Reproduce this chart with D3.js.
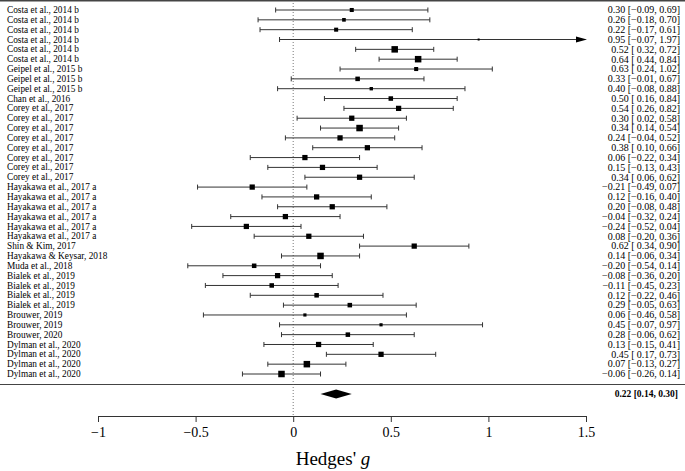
<!DOCTYPE html>
<html>
<head>
<meta charset="utf-8">
<script src="https://cdn.jsdelivr.net/npm/d3@7"></script>
<style>
  body { margin: 0; background: #fff; }
  svg text { font-family: "Liberation Serif", "Times New Roman", serif; fill: #000; }
</style>
</head>
<body>
<div id="chart"></div>
<script>
// study labels, effect sizes (Hedges' g) and 95% CI bounds
const studies = [
  'Costa et al., 2014 b', 'Costa et al., 2014 b', 'Costa et al., 2014 b', 'Costa et al., 2014 b',
  'Costa et al., 2014 b', 'Costa et al., 2014 b',
  'Geipel et al., 2015 b', 'Geipel et al., 2015 b', 'Geipel et al., 2015 b',
  'Chan et al., 2016',
  'Corey et al., 2017', 'Corey et al., 2017', 'Corey et al., 2017', 'Corey et al., 2017',
  'Corey et al., 2017', 'Corey et al., 2017', 'Corey et al., 2017', 'Corey et al., 2017',
  'Hayakawa et al., 2017 a', 'Hayakawa et al., 2017 a', 'Hayakawa et al., 2017 a',
  'Hayakawa et al., 2017 a', 'Hayakawa et al., 2017 a', 'Hayakawa et al., 2017 a',
  'Shin & Kim, 2017', 'Hayakawa & Keysar, 2018', 'Muda et al., 2018',
  'Bialek et al., 2019', 'Bialek et al., 2019', 'Bialek et al., 2019', 'Bialek et al., 2019',
  'Brouwer, 2019', 'Brouwer, 2019', 'Brouwer, 2020',
  'Dylman et al., 2020', 'Dylman et al., 2020', 'Dylman et al., 2020', 'Dylman et al., 2020'
];
const effects = [
  0.30, 0.26, 0.22, 0.95, 0.52, 0.64,
  0.63, 0.33, 0.40,
  0.50,
  0.54, 0.30, 0.34, 0.24, 0.38, 0.06, 0.15, 0.34,
  -0.21, 0.12, 0.20, -0.04, -0.24, 0.08,
  0.62, 0.14, -0.20,
  -0.08, -0.11, 0.12, 0.29,
  0.06, 0.45, 0.28,
  0.13, 0.45, 0.07, -0.06
];
const lower = [
  -0.09, -0.18, -0.17, -0.07, 0.32, 0.44,
  0.24, -0.01, -0.08,
  0.16,
  0.26, 0.02, 0.14, -0.04, 0.10, -0.22, -0.13, 0.06,
  -0.49, -0.16, -0.08, -0.32, -0.52, -0.20,
  0.34, -0.06, -0.54,
  -0.36, -0.45, -0.22, -0.05,
  -0.46, -0.07, -0.06,
  -0.15, 0.17, -0.13, -0.26
];
const upper = [
  0.69, 0.70, 0.61, 1.97, 0.72, 0.84,
  1.02, 0.67, 0.88,
  0.84,
  0.82, 0.58, 0.54, 0.52, 0.66, 0.34, 0.43, 0.62,
  0.07, 0.40, 0.48, 0.24, 0.04, 0.36,
  0.90, 0.34, 0.14,
  0.20, 0.23, 0.46, 0.63,
  0.58, 0.97, 0.62,
  0.41, 0.73, 0.27, 0.14
];
// pooled random-effects estimate
const summary = { est: 0.22, lo: 0.14, hi: 0.30 };
const xTicks = [-1, -0.5, 0, 0.5, 1, 1.5];
const tau2 = 0.02;

const width = 685;
const height = 471;

const svg = d3.select('#chart').append('svg')
  .attr('width', width)
  .attr('height', height);

const xScale = d3.scaleLinear().domain([-1, 1.5]).range([98, 586]);
const yScale = d3.scalePoint().domain(d3.range(studies.length)).range([10, 374]);

const rows = studies.map((s, i) => ({
  label: s, est: effects[i], lo: lower[i], hi: upper[i], row: i,
  // inverse-variance (random effects) weight from CI width
  w: 1 / (Math.pow((upper[i] - lower[i]) / 3.92, 2) + tau2)
}));

const sizeScale = d3.scaleLinear()
  .domain(d3.extent(rows, (d) => d.w))
  .range([2, 6.5]);

const fmt = (v) => d3.format('.2f')(v).replace('-', '\u2212');
const fmtCi = (d) => `${fmt(d.est)} [${d.lo < 0 ? '' : '\u2009'}${fmt(d.lo)}, ${fmt(d.hi)}]`;

// frame lines
svg.append('line')
  .attr('x1', 0).attr('x2', width)
  .attr('y1', 0.75).attr('y2', 0.75)
  .attr('stroke', '#444').attr('stroke-width', 1.5);
svg.append('line')
  .attr('x1', 0).attr('x2', width)
  .attr('y1', 384.5).attr('y2', 384.5)
  .attr('stroke', '#444').attr('stroke-width', 1.2);

// reference line at zero
svg.append('line')
  .attr('x1', xScale(0)).attr('x2', xScale(0))
  .attr('y1', 0).attr('y2', 416)
  .attr('stroke', '#555')
  .attr('stroke-width', 0.8)
  .attr('stroke-dasharray', '1,2');

const xMax = xScale.domain()[1];
const g = svg.append('g');

const study = g.selectAll('.study')
  .data(rows)
  .join('g')
  .attr('class', 'study')
  .attr('transform', (d) => `translate(0,${yScale(d.row)})`);

study.append('line')
  .attr('x1', (d) => xScale(d.lo))
  .attr('x2', (d) => xScale(Math.min(d.hi, xMax)) - (d.hi > xMax ? 6 : 0))
  .attr('stroke', '#333').attr('stroke-width', 1);

// whisker caps
study.append('line')
  .attr('x1', (d) => xScale(d.lo)).attr('x2', (d) => xScale(d.lo))
  .attr('y1', -2.5).attr('y2', 2.5)
  .attr('stroke', '#333').attr('stroke-width', 1);
study.filter((d) => d.hi <= xMax).append('line')
  .attr('x1', (d) => xScale(d.hi)).attr('x2', (d) => xScale(d.hi))
  .attr('y1', -2.5).attr('y2', 2.5)
  .attr('stroke', '#333').attr('stroke-width', 1);

// arrow for truncated intervals
study.filter((d) => d.hi > xMax).append('path')
  .attr('d', `M${xScale(xMax) - 10},-3 L${xScale(xMax) + 1},0 L${xScale(xMax) - 10},3 Z`)
  .attr('fill', '#000');

study.append('rect')
  .attr('x', (d) => xScale(d.est) - sizeScale(d.w) / 2)
  .attr('y', (d) => -sizeScale(d.w) / 2)
  .attr('width', (d) => sizeScale(d.w))
  .attr('height', (d) => sizeScale(d.w))
  .attr('fill', '#000');

study.append('text')
  .attr('x', 7)
  .attr('dy', '0.33em')
  .style('font-size', '9.3px')
  .text((d) => d.label);

study.append('text')
  .attr('x', 680)
  .attr('dy', '0.33em')
  .attr('text-anchor', 'end')
  .style('font-size', '10px')
  .text((d) => fmtCi(d));

// summary diamond
const ySum = 394;
svg.append('path')
  .attr('d', `M${xScale(summary.lo)},${ySum} L${xScale(summary.est)},${ySum - 4.5} L${xScale(summary.hi)},${ySum} L${xScale(summary.est)},${ySum + 4.5} Z`)
  .attr('fill', '#000');
svg.append('text')
  .attr('x', 678).attr('y', ySum)
  .attr('dy', '0.33em')
  .attr('text-anchor', 'end')
  .style('font-size', '9.5px')
  .style('font-weight', 'bold')
  .text(`${fmt(summary.est)} [${fmt(summary.lo)}, ${fmt(summary.hi)}]`);

// x axis
const xAxis = d3.axisBottom(xScale)
  .tickValues(xTicks)
  .tickSize(6)
  .tickSizeOuter(0)
  .tickFormat((d) => (d < 0 ? '\u2212' : '') + d3.format('')(Math.abs(d)));
const xAxisG = svg.append('g')
  .attr('transform', 'translate(0,416)')
  .call(xAxis);
xAxisG.select('.domain').attr('stroke', '#333').attr('stroke-width', 1.2);
xAxisG.selectAll('.tick line').attr('stroke', '#333');
xAxisG.selectAll('.tick text')
  .attr('y', 11)
  .style('font-family', '"Liberation Serif", serif')
  .style('font-size', '14px')
  .attr('fill', '#000');

// axis title
const title = svg.append('text')
  .attr('x', 333).attr('y', 465)
  .attr('text-anchor', 'middle')
  .style('font-size', '19px');
title.append('tspan').text("Hedges' ");
title.append('tspan').style('font-style', 'italic').text('g');
</script>
</body>
</html>
